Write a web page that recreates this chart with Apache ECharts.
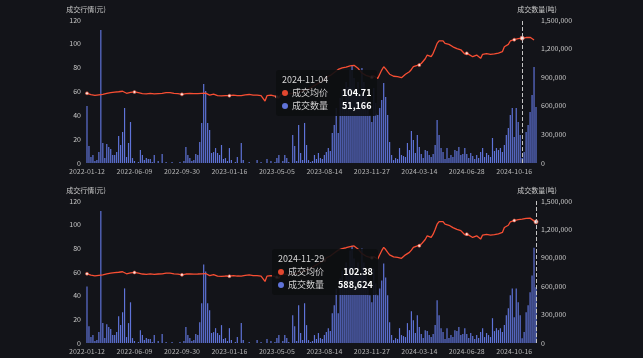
<!DOCTYPE html>
<html>
<head>
<meta charset="utf-8">
<script src="https://cdn.jsdelivr.net/npm/echarts@6/dist/echarts.min.js"></script>
<style>
html,body{margin:0;padding:0;background:#131419;width:643px;height:358px;overflow:hidden;}
.c{position:absolute;left:0;width:643px;height:179px;}
</style>
</head>
<body>
<div id="c1" class="c" style="top:0"></div>
<div id="c2" class="c" style="top:179px"></div>
<script>
// Tick label dates (category axis labels) and the two tooltip dates
const tickDates = ['2022-01-12','2022-06-09','2022-09-30','2023-01-16','2023-05-05','2023-08-14','2023-11-27','2024-03-14','2024-06-28','2024-10-16'];
const tipDates = ['2024-11-04','2024-11-29'];
const perTick = 24; // categories between tick labels

// 成交均价 (元)
const price = [
58.5,58.0,57.3,57.0,56.8,57.0,57.2,57.5,57.6,58.0,58.5,
58.8,59.0,59.3,59.5,59.6,59.8,60.0,60.2,59.5,58.5,
58.8,59.3,59.5,59.6,59.2,59.0,59.0,58.3,57.6,58.0,
58.5,58.4,58.2,58.0,58.0,58.3,58.6,58.5,58.9,59.1,
59.3,59.0,58.7,58.4,58.2,58.2,57.8,57.6,58.0,58.3,
58.5,58.5,58.4,58.2,58.2,58.3,58.2,58.5,58.7,58.7,
58.0,57.0,57.3,57.8,57.5,56.5,55.6,56.3,57.0,56.6,
56.2,56.5,56.8,57.0,56.8,56.6,56.5,56.5,56.9,57.2,
57.2,57.5,57.3,57.0,56.9,57.0,56.8,56.6,56.5,52.0,
56.5,56.8,57.0,56.8,56.2,55.6,54.5,57.6,57.8,58.0,
57.8,58.0,58.3,58.5,58.5,58.8,59.2,60.0,60.5,61.0,
61.5,62.0,63.0,64.0,65.0,66.0,67.0,68.0,69.0,70.0,
72.0,72.4,73.5,75.0,76.0,77.0,78.5,79.5,79.8,80.2,
80.5,80.8,81.5,82.2,82.0,80.8,79.5,77.5,75.5,74.0,
73.5,73.0,72.4,72.0,73.0,71.5,71.0,74.5,78.0,80.8,
79.0,76.6,74.5,73.0,72.8,72.6,72.4,72.0,71.6,73.0,
74.5,75.5,76.6,78.5,80.8,81.5,82.0,82.2,83.5,85.0,
87.5,90.6,90.0,89.2,92.0,96.0,100.4,102.5,104.0,102.5,
100.4,99.0,99.5,99.5,97.5,96.2,96.0,95.6,95.0,93.4,
91.5,92.0,91.2,90.0,89.2,89.8,90.6,89.0,87.8,91.2,
91.5,91.8,92.0,91.2,90.6,91.5,93.0,92.3,92.0,93.4,
97.6,98.5,99.5,102.4,103.0,103.5,104.0,104.3,104.5,104.71,
105.0,105.3,105.5,105.5,104.5,103.2,102.38
];

// 成交数量 (吨)
const volume = [
598000,178000,63000,84000,21000,31000,115000,1395000,210000,52000,
199000,168000,147000,84000,84000,115000,283000,189000,325000,577000,
63000,210000,430000,52000,21000,0,10000,136000,84000,31000,
52000,42000,42000,10000,84000,0,21000,0,94000,0,
10000,0,0,10000,0,0,0,10000,0,21000,
168000,84000,52000,21000,31000,94000,84000,220000,420000,829000,
755000,420000,346000,105000,115000,157000,105000,84000,189000,42000,
52000,21000,157000,31000,0,10000,63000,0,210000,31000,
0,0,10000,0,0,0,31000,0,10000,0,
0,42000,0,21000,0,10000,52000,84000,0,21000,
84000,52000,10000,0,294000,178000,21000,399000,105000,31000,
420000,189000,31000,10000,21000,84000,42000,105000,52000,42000,
84000,115000,157000,126000,315000,399000,577000,315000,682000,766000,
629000,850000,797000,976000,1028000,892000,713000,850000,713000,997000,
850000,713000,640000,504000,430000,787000,629000,504000,577000,661000,
839000,692000,504000,220000,84000,31000,52000,42000,157000,84000,
73000,63000,210000,136000,336000,241000,105000,294000,168000,94000,
52000,136000,126000,84000,63000,94000,189000,451000,294000,157000,
115000,42000,157000,52000,84000,63000,136000,126000,168000,84000,
94000,157000,94000,52000,105000,73000,42000,84000,52000,115000,
157000,63000,105000,84000,63000,262000,126000,157000,136000,157000,
115000,189000,294000,367000,504000,577000,273000,577000,430000,294000,
51166,115000,325000,399000,535000,713000,1007000,588624
];

// Build the category date strings between the known dates
const anchorDates = tickDates.concat(tipDates);
const anchorIdx = tickDates.map((d,i)=>i*perTick).concat([220, price.length-1]);
function toDay(s){const p=s.split('-').map(Number);return Date.UTC(p[0],p[1]-1,p[2])/86400000;}
function fmt(d){const dt=new Date(d*86400000);const m=dt.getUTCMonth()+1, dd=dt.getUTCDate();return dt.getUTCFullYear()+'-'+(m<10?'0':'')+m+'-'+(dd<10?'0':'')+dd;}
const dates = [];
for (let k=0;k<anchorDates.length-1;k++){
  const i0=anchorIdx[k], i1=anchorIdx[k+1], d0=toDay(anchorDates[k]), d1=toDay(anchorDates[k+1]);
  for(let i=i0;i<i1;i++) dates.push(fmt(d0+Math.round((d1-d0)*(i-i0)/(i1-i0))));
}
dates.push(anchorDates[anchorDates.length-1]);

const RED='#e1472f', BLUE='#5f73d8';
const FONT='"Noto Sans CJK SC","Noto Sans",sans-serif';
function commas(v){return String(v).replace(/\B(?=(\d{3})+(?!\d))/g,',');}

function row(color,name,val){
  return '<div style="display:flex;justify-content:space-between;align-items:center;height:13px;line-height:13px;">'+
    '<span style="display:flex;align-items:center;"><span style="display:inline-block;width:6px;height:6px;border-radius:50%;background:'+color+';margin-right:4px;"></span>'+
    '<span style="color:#cfcfcf;">'+name+'</span></span>'+
    '<span style="color:#fff;font-weight:bold;margin-left:14px;">'+val+'</span></div>';
}

function makeOption(gridTop,gridBottom,tipPos){
  return {
    backgroundColor:'#131419',
    animation:false,
    textStyle:{fontFamily:FONT},
    grid:{left:86,right:106,top:gridTop,bottom:gridBottom},
    tooltip:{
      trigger:'axis',triggerOn:'none',alwaysShowContent:true,transitionDuration:0,
      position:tipPos,
      backgroundColor:'rgba(13,14,17,0.9)',borderWidth:0,padding:[3,5,4,6],
      extraCssText:'box-shadow:none;border-radius:3px;',
      textStyle:{fontFamily:FONT,fontSize:9,color:'#ddd'},
      axisPointer:{type:'line',lineStyle:{color:'#c4c4c4',type:'dashed',width:1}},
      formatter:function(ps){
        const i=ps[0].dataIndex;
        return '<div style="font-family:'+FONT.replace(/"/g,"'")+';font-size:9px;">'+
          '<div style="color:#d6d6d6;height:13px;line-height:13px;">'+dates[i]+'</div>'+
          row(RED,'成交均价',price[i].toFixed(2))+
          row(BLUE,'成交数量',commas(volume[i]))+'</div>';
      }
    },
    xAxis:{
      type:'category',data:dates,boundaryGap:true,
      axisLine:{show:false},axisTick:{show:false},
      axisLabel:{interval:perTick-1,color:'#b4b4b4',fontSize:7,margin:5}
    },
    yAxis:[
      {type:'value',min:0,max:120,interval:20,position:'left',
       name:'成交行情(元)',nameGap:7,nameTextStyle:{color:'#c8c8c8',fontSize:7},
       axisLine:{show:false},axisTick:{show:false},splitLine:{show:false},
       axisLabel:{color:'#c8c8c8',fontSize:7,margin:5}},
      {type:'value',min:0,max:1500000,interval:300000,position:'right',
       name:'成交数量(吨)',nameGap:7,nameTextStyle:{color:'#c8c8c8',fontSize:7},
       axisLine:{show:false},axisTick:{show:false},splitLine:{show:false},
       axisLabel:{color:'#c8c8c8',fontSize:7,margin:4,formatter:commas}}
    ],
    series:[
      {name:'成交均价',type:'line',yAxisIndex:0,data:price,z:3,
       symbol:'circle',symbolSize:3,showSymbol:true,showAllSymbol:'auto',
       lineStyle:{color:RED,width:1.3},
       itemStyle:{color:'#fbe6e1',borderColor:RED,borderWidth:0.6},
       emphasis:{scale:1.4}},
      {name:'成交数量',type:'bar',yAxisIndex:1,data:volume,z:2,
       barCategoryGap:'40%',itemStyle:{color:BLUE}}
    ]
  };
}

const c1=echarts.init(document.getElementById('c1'));
c1.setOption(makeOption(20,16,[276,70]));
const c2=echarts.init(document.getElementById('c2'));
c2.setOption(makeOption(22,15,[272,70]));
function tips(){
  c1.dispatchAction({type:'showTip',seriesIndex:0,dataIndex:220});
  c2.dispatchAction({type:'showTip',seriesIndex:0,dataIndex:price.length-1});
}
tips();
setTimeout(tips,50);
</script>
</body>
</html>
